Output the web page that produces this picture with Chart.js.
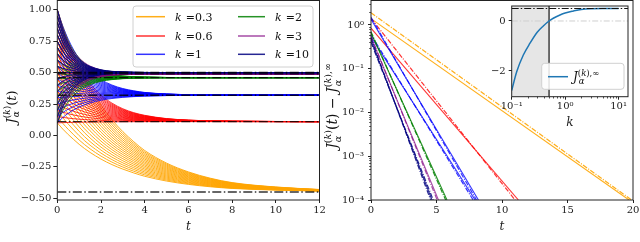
<!DOCTYPE html>
<html><head><meta charset="utf-8">
<script src="https://cdn.jsdelivr.net/npm/chart.js@4.4.1/dist/chart.umd.min.js"></script>
<style>
html,body{margin:0;padding:0;background:#fff;width:640px;height:242px;overflow:hidden;position:relative;}
canvas{position:absolute;top:0;}
</style></head><body>
<canvas id="left" width="340" height="242" style="left:0px"></canvas>
<canvas id="right" width="320" height="242" style="left:320px"></canvas>
<canvas id="inset" width="160" height="135" style="left:480px"></canvas>
<script>
// ---------------- data ----------------
const kLabels = ['0.3', '0.6', '1', '2', '3', '10'];
const kColors = ['rgba(255,165,0,0.9)', 'rgba(255,0,0,0.8)', 'rgba(0,0,255,0.8)',
                 'rgba(0,128,0,0.85)', 'rgba(128,0,128,0.7)', 'rgba(0,0,128,0.85)'];
const asymptotes = [-0.45, 0.11, 0.32, 0.46, 0.49, 0.50];
const timeGrid = [0, 0.25, 0.5, 0.75, 1, 1.25, 1.5, 2, 2.5, 3, 3.5, 4, 5, 6, 7, 8, 10, 12];
const initialValues = [0.10, 0.15, 0.20, 0.25, 0.30, 0.35, 0.40, 0.45, 0.50, 0.55,
                       0.60, 0.65, 0.70, 0.75, 0.80, 0.85, 0.90, 0.95, 1.00];
// curve that starts at 1.00, read on timeGrid, one per k
const topCurveK03 = [1.00, 0.87, 0.755, 0.65, 0.55, 0.46, 0.38, 0.24, 0.125, 0.03, -0.05, -0.12, -0.22, -0.29, -0.34, -0.375, -0.41, -0.43];
const topCurveK06 = [1.00, 0.853, 0.731, 0.629, 0.543, 0.472, 0.413, 0.321, 0.257, 0.212, 0.181, 0.16, 0.134, 0.122, 0.116, 0.113, 0.111, 0.11];
const topCurveK1  = [1.00, 0.870, 0.765, 0.680, 0.610, 0.555, 0.510, 0.444, 0.401, 0.373, 0.355, 0.342, 0.330, 0.324, 0.322, 0.321, 0.320, 0.320];
const topCurveK2  = [1.00, 0.855, 0.749, 0.672, 0.615, 0.573, 0.543, 0.504, 0.484, 0.473, 0.467, 0.464, 0.461, 0.460, 0.460, 0.460, 0.460, 0.460];
const topCurveK3  = [1.00, 0.850, 0.743, 0.668, 0.616, 0.579, 0.552, 0.521, 0.505, 0.498, 0.494, 0.492, 0.490, 0.490, 0.490, 0.490, 0.490, 0.490];
const topCurveK10 = [1.00, 0.839, 0.730, 0.656, 0.606, 0.572, 0.549, 0.522, 0.510, 0.505, 0.502, 0.501, 0.500, 0.500, 0.500, 0.500, 0.500, 0.500];
const topCurves = [topCurveK03, topCurveK06, topCurveK1, topCurveK2, topCurveK3, topCurveK10];
const leftXTicks = [0, 2, 4, 6, 8, 10, 12];
const leftYTicks = [-0.5, -0.25, 0, 0.25, 0.5, 0.75, 1.0];

// right panel: straight lines on log axis, value at t=0 and time reaching 1e-4
const rightLineK      = [0, 0, 1, 1, 2, 2, 2, 2, 3, 3, 4, 4, 5, 5, 5];
const rightLineDashed = [0, 1, 0, 1, 0, 1, 0, 1, 0, 1, 0, 1, 0, 1, 1];
const rightLineStart  = [1.40, 1.90, 0.85, 1.42, 1.35, 1.50, 0.54, 0.60, 0.66, 0.70, 0.52, 0.56, 0.45, 0.50, 0.40];
const rightLineEnd    = [19.7, 19.9, 11.25, 11.0, 8.2, 8.05, 7.95, 7.8, 5.8, 5.7, 5.15, 5.05, 4.65, 4.55, 4.75];
const rightFloor = 1e-4;
const rightXTicks = [0, 5, 10, 15, 20];
const rightYTicks = [1e-4, 1e-3, 1e-2, 1e-1, 1];
const rightYTickLabels = ['10\u207B\u2074', '10\u207B\u00B3', '10\u207B\u00B2', '10\u207B\u00B9', '10\u2070'];

// inset
const insetK = [0.1, 0.124, 0.165, 0.22, 0.3, 0.39, 0.5, 0.6, 0.8, 1, 1.43, 2, 3, 5, 10];
const insetJ = [-2.78, -2.03, -1.36, -0.89, -0.45, -0.2, 0, 0.11, 0.24, 0.32, 0.40, 0.46, 0.49, 0.50, 0.50];
const insetThresholdK = 0.5;
const insetAsymptote = 0.5;
const insetXTicks = [0.1, 1, 10];
const insetXTickLabels = ['10\u207B\u00B9', '10\u2070', '10\u00B9'];
const insetYTicks = [-2, 0];

// ---------------- helpers ----------------
const SERIF = '"DejaVu Serif"';
Chart.defaults.font.family = SERIF;
Chart.defaults.font.size = 10;
Chart.defaults.color = '#222';
function zeroPad(s) { s.paddingLeft = 0; s.paddingRight = 0; s.paddingTop = 0; s.paddingBottom = 0; }
function minus(v) { return v < 0 ? '\u2212' + String(Math.abs(v)) : String(v); }
function fnt(r) { return (r.i ? 'italic ' : '') + r.s + 'px ' + SERIF; }
function runsW(ctx, runs) { let w = 0; runs.forEach(r => { ctx.font = fnt(r); w += ctx.measureText(r.t).width; }); return w; }
function itemW(ctx, it) { return it.sup ? Math.max(runsW(ctx, it.sup), runsW(ctx, it.sub || [])) : runsW(ctx, [it]); }
function drawRuns(ctx, runs, x, y) { runs.forEach(r => { ctx.font = fnt(r); ctx.fillText(r.t, x, y); x += ctx.measureText(r.t).width; }); }
function drawMath(ctx, items, x, y, rot, align, S) {
  ctx.save(); ctx.translate(x, y); ctx.rotate(rot);
  ctx.fillStyle = '#111'; ctx.textBaseline = 'alphabetic'; ctx.textAlign = 'left';
  let total = 0; items.forEach(it => total += itemW(ctx, it));
  let cx = align === 'center' ? -total / 2 : 0;
  items.forEach(it => {
    const w = itemW(ctx, it);
    if (it.sup) { drawRuns(ctx, it.sup, cx, -0.42 * S); if (it.sub) drawRuns(ctx, it.sub, cx + 1, 0.28 * S); }
    else drawRuns(ctx, [it], cx, 0);
    cx += w;
  });
  ctx.restore();
}
function jItems(S, s, inf, withT) {
  const sup = [{t: '(', s: s}, {t: 'k', s: s, i: 1}, {t: ')', s: s}];
  if (inf) sup.push({t: ',\u221E', s: s});
  const arr = [{t: 'J', s: S, i: 1}, {sup: sup, sub: [{t: '\u03B1', s: s, i: 1}]}];
  if (withT) arr.push({t: '(', s: S}, {t: 't', s: S, i: 1}, {t: ')', s: S});
  return arr;
}
const framePlugin = {
  id: 'frame',
  afterDatasetsDraw(chart) {
    const {ctx, chartArea: a} = chart;
    ctx.save(); ctx.strokeStyle = '#222'; ctx.lineWidth = 1;
    ctx.strokeRect(a.left, a.top, a.right - a.left, a.bottom - a.top); ctx.restore();
  }
};
function roundRect(ctx, x, y, w, h, r) {
  ctx.beginPath(); ctx.moveTo(x + r, y); ctx.lineTo(x + w - r, y); ctx.arcTo(x + w, y, x + w, y + r, r);
  ctx.lineTo(x + w, y + h - r); ctx.arcTo(x + w, y + h, x + w - r, y + h, r);
  ctx.lineTo(x + r, y + h); ctx.arcTo(x, y + h, x, y + h - r, r);
  ctx.lineTo(x, y + r); ctx.arcTo(x, y, x + r, y, r); ctx.closePath();
}
const DASHDOT = [9, 2.5, 1.5, 2.5];

// ---------------- left chart ----------------
const leftDatasets = [];
asymptotes.forEach((a, i) => {
  leftDatasets.push({data: [{x: 0, y: a}, {x: 12, y: a}], borderColor: 'rgba(0,0,0,0.8)', borderWidth: 1.4,
    borderDash: DASHDOT, order: 0});
});
topCurves.forEach((top, ki) => {
  const a = asymptotes[ki];
  initialValues.forEach(j0 => {
    const scale = (j0 - a) / (1 - a);
    leftDatasets.push({
      data: timeGrid.map((t, n) => ({x: t, y: a + (top[n] - a) * scale})),
      borderColor: kColors[ki], borderWidth: 1, cubicInterpolationMode: 'monotone', order: 6 - ki
    });
  });
});
const leftLegend = {
  id: 'kLegend',
  afterDraw(chart) {
    const ctx = chart.ctx; ctx.save();
    roundRect(ctx, 133, 6, 180, 61, 3);
    ctx.fillStyle = 'rgba(255,255,255,0.85)'; ctx.fill();
    ctx.strokeStyle = '#d0d0d0'; ctx.lineWidth = 1; ctx.stroke();
    const rows = [16.7, 36, 54.3];
    kLabels.forEach((lab, i) => {
      const col = i < 3 ? 0 : 1, y = rows[i % 3];
      const x0 = col ? 238 : 136, x1 = col ? 265 : 165, tx = col ? 275 : 175;
      ctx.strokeStyle = kColors[i]; ctx.lineWidth = 1.5; ctx.beginPath(); ctx.moveTo(x0, y); ctx.lineTo(x1, y); ctx.stroke();
      ctx.fillStyle = '#111'; ctx.textBaseline = 'alphabetic';
      ctx.font = 'italic 11px ' + SERIF; ctx.fillText('k', tx, y + 4);
      const w = ctx.measureText('k').width;
      ctx.font = '11px ' + SERIF; ctx.fillText('=' + lab, tx + w + 4, y + 4);
    });
    drawMath(ctx, jItems(13, 9, false, true), 15.5, 107, -Math.PI / 2, 'center', 13);
    ctx.restore();
  }
};
new Chart(document.getElementById('left'), {
  type: 'line',
  data: {datasets: leftDatasets},
  options: {
    responsive: false, animation: false, devicePixelRatio: 1,
    layout: {padding: {left: 0, top: 0.5, right: 20.5, bottom: 0}},
    plugins: {legend: {display: false}, tooltip: {enabled: false}},
    elements: {point: {radius: 0}},
    scales: {
      x: {type: 'linear', min: 0, max: 12,
        afterBuildTicks: s => { s.ticks = leftXTicks.map(v => ({value: v})); },
        afterFit: s => { s.height = 42; zeroPad(s); },
        grid: {drawOnChartArea: false, tickLength: 3, tickColor: '#222'}, border: {display: false},
        ticks: {padding: 1, maxRotation: 0, autoSkip: false, callback: v => String(v)},
        title: {display: true, text: 't', font: {style: 'italic', size: 12}, padding: {top: 0, bottom: 8.3}}},
      y: {type: 'linear', min: -0.5135, max: 1.0732,
        afterBuildTicks: s => { s.ticks = leftYTicks.map(v => ({value: v})); },
        afterFit: s => { s.width = 57.3; zeroPad(s); },
        grid: {drawOnChartArea: false, tickLength: 4, tickColor: '#222'}, border: {display: false},
        ticks: {padding: 2, autoSkip: false, callback: v => (v < 0 ? '\u2212' : '') + Math.abs(v).toFixed(2)}}
    }
  },
  plugins: [framePlugin, leftLegend]
});

// ---------------- right chart ----------------
const rightDatasets = rightLineK.map((k, i) => ({
  data: [{x: 0, y: rightLineStart[i]}, {x: rightLineEnd[i], y: rightFloor}],
  borderColor: kColors[k], borderWidth: rightLineDashed[i] ? 1.2 : 1.1,
  borderDash: rightLineDashed[i] ? [5, 1.5, 1, 1.5] : [], order: 6 - k
}));
const rightExtras = {
  id: 'rightExtras',
  afterDraw(chart) {
    const ctx = chart.ctx, ys = chart.scales.y, a = chart.chartArea;
    ctx.save(); ctx.strokeStyle = '#222'; ctx.lineWidth = 0.8;
    for (let e = -4; e <= 0; e++) for (let m = 2; m <= 9; m++) {
      const v = m * Math.pow(10, e); if (v > ys.max) continue;
      const py = Math.round(ys.getPixelForValue(v)) + 0.5;
      ctx.beginPath(); ctx.moveTo(a.left - 1.8, py); ctx.lineTo(a.left, py); ctx.stroke();
    }
    const items = jItems(14, 9.5, false, true).concat([{t: ' \u2212 ', s: 14}], jItems(14, 9.5, true, false));
    drawMath(ctx, items, 17, 106, -Math.PI / 2, 'center', 14);
    ctx.restore();
  }
};
new Chart(document.getElementById('right'), {
  type: 'line',
  data: {datasets: rightDatasets},
  options: {
    responsive: false, animation: false, devicePixelRatio: 1,
    layout: {padding: {left: 0, top: 0.5, right: 7, bottom: 0}},
    plugins: {legend: {display: false}, tooltip: {enabled: false}},
    elements: {point: {radius: 0}},
    scales: {
      x: {type: 'linear', min: 0, max: 20,
        afterBuildTicks: s => { s.ticks = rightXTicks.map(v => ({value: v})); },
        afterFit: s => { s.height = 42; zeroPad(s); },
        grid: {drawOnChartArea: false, tickLength: 3, tickColor: '#222'}, border: {display: false},
        ticks: {padding: 1, maxRotation: 0, autoSkip: false, callback: v => String(v)},
        title: {display: true, text: 't', font: {style: 'italic', size: 12}, padding: {top: 0, bottom: 8.3}}},
      y: {type: 'logarithmic', min: 1e-4, max: 3.63,
        afterBuildTicks: s => { s.ticks = rightYTicks.map(v => ({value: v})); },
        afterFit: s => { s.width = 51; zeroPad(s); },
        grid: {drawOnChartArea: false, tickLength: 3, tickColor: '#222'}, border: {display: false},
        ticks: {padding: 4, autoSkip: false, callback: (v, i) => rightYTickLabels[rightYTicks.indexOf(v)] || ''}}
    }
  },
  plugins: [framePlugin, rightExtras]
});

// ---------------- inset chart ----------------
const insetDatasets = [
  {data: [{x: 0.1, y: 0.6}, {x: insetThresholdK, y: 0.6}], borderWidth: 0, borderColor: 'rgba(0,0,0,0)',
   backgroundColor: '#e6e6e6', fill: 'start', order: 5},
  {data: [{x: 0.1, y: 0}, {x: 15, y: 0}], borderColor: '#cfcfcf', borderWidth: 1, borderDash: [6, 2, 1.5, 2], order: 4},
  {data: [{x: insetThresholdK, y: -3.03}, {x: insetThresholdK, y: 0.6}], borderColor: '#111', borderWidth: 1.2, order: 3},
  {data: insetK.map((k, i) => ({x: k, y: insetJ[i]})), borderColor: '#1f77b4', borderWidth: 1.5,
   cubicInterpolationMode: 'monotone', order: 2},
  {data: [{x: 0.1, y: insetAsymptote}, {x: 15, y: insetAsymptote}], borderColor: '#111', borderWidth: 1.2,
   borderDash: [7, 2, 1.5, 2], order: 1}
];
const insetExtras = {
  id: 'insetExtras',
  beforeDraw(chart) {
    const {ctx, chartArea: a} = chart;
    ctx.save(); ctx.fillStyle = '#fff'; ctx.fillRect(a.left, a.top, a.right - a.left, a.bottom - a.top); ctx.restore();
  },
  afterDraw(chart) {
    const ctx = chart.ctx, xs = chart.scales.x, a = chart.chartArea;
    ctx.save(); ctx.strokeStyle = '#222'; ctx.lineWidth = 0.8;
    for (let e = -1; e <= 1; e++) for (let m = 2; m <= 9; m++) {
      const v = m * Math.pow(10, e); if (v > xs.max) continue;
      const px = Math.round(xs.getPixelForValue(v)) + 0.5;
      ctx.beginPath(); ctx.moveTo(px, a.bottom); ctx.lineTo(px, a.bottom + 1.8); ctx.stroke();
    }
    // legend
    roundRect(ctx, 61.7, 63.3, 82.3, 26, 3);
    ctx.fillStyle = 'rgba(255,255,255,0.85)'; ctx.fill();
    ctx.strokeStyle = '#d0d0d0'; ctx.lineWidth = 1; ctx.stroke();
    ctx.strokeStyle = '#1f77b4'; ctx.lineWidth = 1.5;
    ctx.beginPath(); ctx.moveTo(68, 76.7); ctx.lineTo(88, 76.7); ctx.stroke();
    drawMath(ctx, jItems(12, 8.5, true, false), 93, 81, 0, 'left', 12);
    ctx.restore();
  }
};
new Chart(document.getElementById('inset'), {
  type: 'line',
  data: {datasets: insetDatasets},
  options: {
    responsive: false, animation: false, devicePixelRatio: 1,
    layout: {padding: {left: 0, top: 6, right: 12, bottom: 0}},
    plugins: {legend: {display: false}, tooltip: {enabled: false}},
    elements: {point: {radius: 0}},
    scales: {
      x: {type: 'logarithmic', min: 0.1, max: 15,
        afterBuildTicks: s => { s.ticks = insetXTicks.map(v => ({value: v})); },
        afterFit: s => { s.height = 38.3; zeroPad(s); },
        grid: {drawOnChartArea: false, tickLength: 3, tickColor: '#222'}, border: {display: false},
        ticks: {padding: 1, maxRotation: 0, autoSkip: false, callback: v => insetXTickLabels[insetXTicks.indexOf(v)] || ''},
        title: {display: true, text: 'k', font: {style: 'italic', size: 12}, padding: {top: 0, bottom: 5.3}}},
      y: {type: 'linear', min: -3.03, max: 0.6,
        afterBuildTicks: s => { s.ticks = insetYTicks.map(v => ({value: v})); },
        afterFit: s => { s.width = 31.7; zeroPad(s); },
        grid: {drawOnChartArea: false, tickLength: 3, tickColor: '#222'}, border: {display: false},
        ticks: {padding: 3, autoSkip: false, callback: v => minus(v)}}
    }
  },
  plugins: [insetExtras, framePlugin]
});
</script>
</body></html>
